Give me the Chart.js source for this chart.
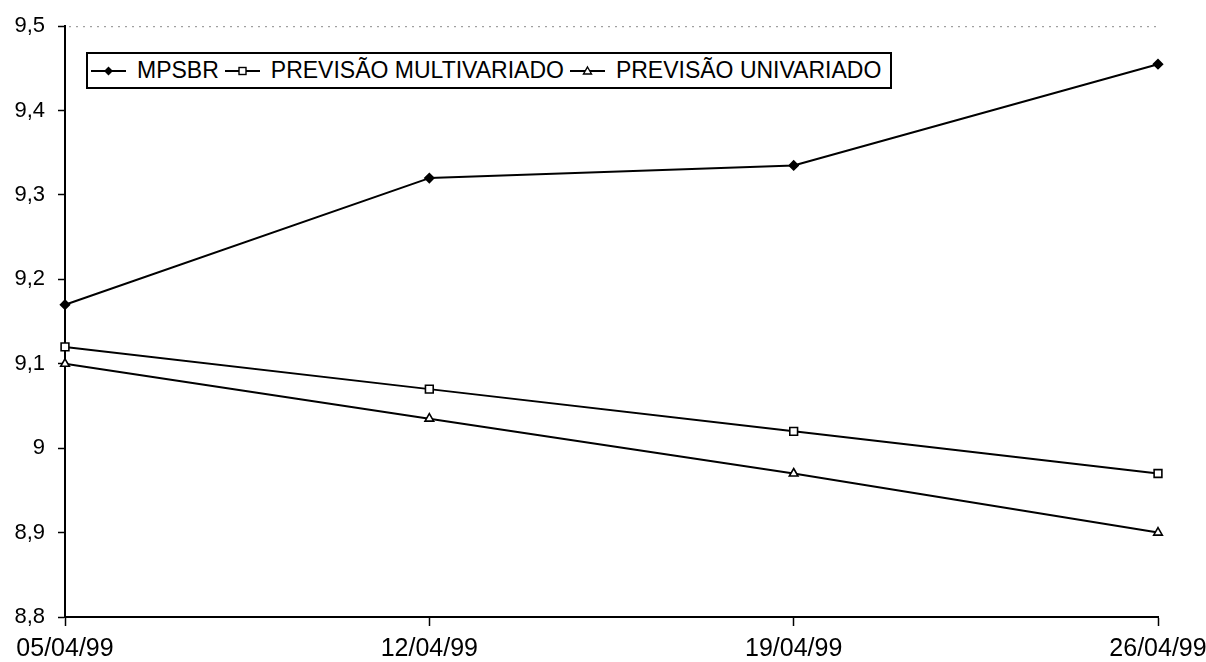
<!DOCTYPE html>
<html lang="pt-BR">
<head>
<meta charset="utf-8">
<title>MPSBR e previsões</title>
<script src="https://cdn.jsdelivr.net/npm/chart.js@4.4.1/dist/chart.umd.min.js"></script>
<style>
  html, body { margin: 0; padding: 0; background: #fff; }
  #wrap { position: relative; width: 1206px; height: 662px; }
  #chart { display: block; }
  #legend {
    position: absolute; left: 86px; top: 52px; height: 37px;
    box-sizing: border-box; border: 2px solid #000; background: #fff;
    display: flex; align-items: center; padding: 0 9px 0 2px;
    font-family: "Liberation Sans", Arial, sans-serif; font-size: 23px; color: #000;
    white-space: nowrap;
  }
  #legend .item { display: flex; align-items: center; }
  #legend .item + .item { margin-left: 5px; }
  #legend svg { display: block; margin-right: 10px; }
</style>
</head>
<body>
<div id="wrap">
  <canvas id="chart" width="1206" height="662"></canvas>
  <div id="legend"></div>
</div>
<script>
// Semanas de abril de 1999
const weeks = ['05/04/99', '12/04/99', '19/04/99', '26/04/99'];

// Valor observado e as duas previsões
const mpsbr = [9.17, 9.32, 9.335, 9.455];
const previsaoMultivariado = [9.12, 9.07, 9.02, 8.97];
const previsaoUnivariado = [9.10, 9.035, 8.97, 8.90];

const seriesNames = ['MPSBR', 'PREVISÃO MULTIVARIADO', 'PREVISÃO UNIVARIADO'];

// Escala vertical
const yMin = 8.8;
const yMax = 9.5;
const yStep = 0.1;

const FONT = '"Liberation Sans", Arial, sans-serif';

const seriesStyle = [
  { pointStyle: 'rectRot', radius: 4.5, fill: '#000' },
  { pointStyle: 'rect', radius: 5.5, fill: '#fff' },
  { pointStyle: 'triangle', radius: 5, fill: '#fff' }
];

function fmt(v) {
  const r = Math.round(v * 10) / 10;
  return (Number.isInteger(r) ? String(r) : r.toFixed(1)).replace('.', ',');
}

// Linha pontilhada no topo da área do gráfico
const topDots = {
  id: 'topDots',
  beforeDatasetsDraw(chart) {
    const { ctx, chartArea } = chart;
    const y = chart.scales.y.getPixelForValue(yMax) + 0.5;
    ctx.save();
    ctx.strokeStyle = '#8a8a8a';
    ctx.lineWidth = 1;
    ctx.setLineDash([2, 5]);
    ctx.beginPath();
    ctx.moveTo(chartArea.left + 4, y);
    ctx.lineTo(chartArea.right, y);
    ctx.stroke();
    ctx.restore();
  }
};

const datasets = [mpsbr, previsaoMultivariado, previsaoUnivariado].map((data, i) => ({
  label: seriesNames[i],
  data,
  borderColor: '#000',
  borderWidth: 2,
  tension: 0,
  fill: false,
  pointStyle: seriesStyle[i].pointStyle,
  pointRadius: seriesStyle[i].radius,
  pointBackgroundColor: seriesStyle[i].fill,
  pointBorderColor: '#000',
  pointBorderWidth: 1.6
}));

new Chart(document.getElementById('chart'), {
  type: 'line',
  data: { labels: weeks, datasets },
  plugins: [topDots],
  options: {
    responsive: false,
    animation: false,
    devicePixelRatio: 1,
    layout: { padding: { top: 24, right: 48, left: 0, bottom: 0 } },
    plugins: { legend: { display: false }, tooltip: { enabled: false } },
    elements: { line: { borderCapStyle: 'round', borderJoinStyle: 'round' } },
    scales: {
      x: {
        type: 'category',
        offset: false,
        afterFit(scale) {
          scale.height = 45;
          // the end labels may hang past the plot edges
          scale.paddingLeft = 0;
          scale.paddingRight = 0;
        },
        grid: {
          drawOnChartArea: false, drawTicks: true,
          tickLength: 9, tickColor: '#000', tickWidth: 1.5
        },
        border: { display: true, color: '#000', width: 2 },
        ticks: {
          color: '#000', padding: 8, maxRotation: 0, autoSkip: false,
          font: { family: FONT, size: 25 }
        }
      },
      y: {
        min: yMin, max: yMax,
        afterFit(scale) { scale.width = 65; },
        grid: {
          drawOnChartArea: false, drawTicks: true,
          tickLength: 7, tickColor: '#000', tickWidth: 1.5
        },
        border: { display: true, color: '#000', width: 2 },
        ticks: {
          stepSize: yStep, color: '#000', padding: 13,
          font: { family: FONT, size: 22 },
          callback: (v) => fmt(v)
        }
      }
    }
  }
});

// Legenda: amostra de linha com marcador e nome de cada série
function sampleSvg(style) {
  const ns = 'http://www.w3.org/2000/svg';
  const svg = document.createElementNS(ns, 'svg');
  svg.setAttribute('width', '37');
  svg.setAttribute('height', '14');
  const line = document.createElementNS(ns, 'line');
  line.setAttribute('x1', '1'); line.setAttribute('x2', '36');
  line.setAttribute('y1', '7'); line.setAttribute('y2', '7');
  line.setAttribute('stroke', '#000'); line.setAttribute('stroke-width', '2');
  svg.appendChild(line);
  let mark;
  if (style.pointStyle === 'rectRot') {
    mark = document.createElementNS(ns, 'polygon');
    mark.setAttribute('points', '18.5,3.5 22,7 18.5,10.5 15,7');
  } else if (style.pointStyle === 'rect') {
    mark = document.createElementNS(ns, 'rect');
    mark.setAttribute('x', '15'); mark.setAttribute('y', '3.5');
    mark.setAttribute('width', '7'); mark.setAttribute('height', '7');
  } else {
    mark = document.createElementNS(ns, 'polygon');
    mark.setAttribute('points', '18.5,3 22.5,10 14.5,10');
  }
  mark.setAttribute('fill', style.fill);
  mark.setAttribute('stroke', '#000');
  mark.setAttribute('stroke-width', '1.4');
  svg.appendChild(mark);
  return svg;
}

const legendEl = document.getElementById('legend');
seriesNames.forEach((name, i) => {
  const item = document.createElement('div');
  item.className = 'item';
  item.appendChild(sampleSvg(seriesStyle[i]));
  const span = document.createElement('span');
  span.textContent = name;
  item.appendChild(span);
  legendEl.appendChild(item);
});
</script>
</body>
</html>
